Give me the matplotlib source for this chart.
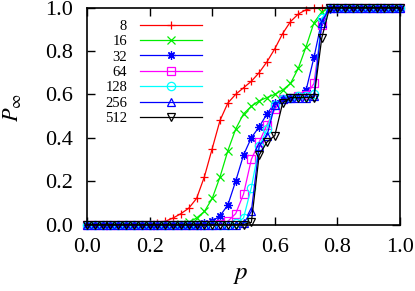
import numpy as np
import matplotlib
matplotlib.use("Agg")
import matplotlib.pyplot as plt

plt.rcParams['font.family'] = ['Liberation Serif', 'DejaVu Serif']
plt.rcParams['mathtext.fontset'] = 'stix'

# sampling grid of p (step 0.025)
p = np.linspace(0.0, 1.0, 41)

z = [0.0]
P_8 = z * 9 + [0.005, 0.015, 0.03, 0.05, 0.075, 0.12, 0.22, 0.35, 0.48, 0.56,
               0.60, 0.63, 0.66, 0.70, 0.75, 0.81, 0.88, 0.935, 0.97, 0.99,
               0.998] + [1.0] * 11
P_16 = z * 12 + [0.003, 0.01, 0.03, 0.06, 0.12, 0.22, 0.34, 0.44, 0.51, 0.545,
                 0.57, 0.585, 0.60, 0.62, 0.65, 0.72, 0.82, 0.93, 0.98] + [1.0] * 10
P_32 = z * 15 + [0.005, 0.015, 0.04, 0.09, 0.20, 0.32, 0.40, 0.45, 0.51, 0.56,
                 0.58, 0.585, 0.59, 0.62, 0.77, 0.94, 0.995] + [1.0] * 9
P_64 = z * 17 + [0.003, 0.015, 0.05, 0.14, 0.30, 0.38, 0.46, 0.53, 0.58, 0.585,
                 0.59, 0.595, 0.65, 0.92] + [1.0] * 10
P_128 = z * 19 + [0.005, 0.03, 0.17, 0.36, 0.44, 0.55, 0.58, 0.585, 0.59, 0.59,
                  0.60, 0.95] + [1.0] * 10
P_256 = z * 20 + [0.005, 0.06, 0.36, 0.41, 0.55, 0.58, 0.585, 0.585, 0.585,
                  0.59, 0.93] + [1.0] * 10
P_512 = z * 21 + [0.01, 0.32, 0.38, 0.41, 0.56, 0.585, 0.585, 0.585, 0.585,
                  0.86] + [1.0] * 10

sizes = ["8", "16", "32", "64", "128", "256", "512"]
series = [P_8, P_16, P_32, P_64, P_128, P_256, P_512]
colors = ["#ff0000", "#00ee00", "#0000ff", "#ff00ff", "#00ffff", "#0000ff", "#000000"]
markers = ["+", "x", (8, 2, 0), "s", "o", "^", "v"]

fig = plt.figure(figsize=(4.15, 2.91), dpi=100)
ax = fig.add_axes([0.2096, 0.2285, 0.7544, 0.7457])

for lab, vals, c, m in zip(sizes, series, colors, markers):
    ax.plot(p, vals, color=c, marker=m, markersize=6, markeredgewidth=0.9,
            fillstyle="none", linewidth=0.9, label=lab, clip_on=False)

ax.set_xlim(0, 1)
ax.set_ylim(0, 1)
ax.set_xticks(np.arange(0, 1.01, 0.2))
ax.set_yticks(np.arange(0, 1.01, 0.2))
ax.xaxis.set_major_formatter(matplotlib.ticker.FormatStrFormatter("%.1f"))
ax.yaxis.set_major_formatter(matplotlib.ticker.FormatStrFormatter("%.1f"))
ax.tick_params(direction="in", top=True, right=True, length=6, width=1,
               labelsize=16, pad=10)
for s in ax.spines.values():
    s.set_linewidth(1.2)

ax.set_xlabel("$p$", fontsize=18)
ax.set_ylabel(r"$P_\infty$", fontsize=16)
ax.xaxis.set_label_coords(0.49, -0.18)
ax.yaxis.set_label_coords(-0.205, 0.54)

leg = ax.legend(loc="upper left", bbox_to_anchor=(0.03, 0.985), markerfirst=False,
                frameon=False, fontsize=10.5, handlelength=4.25, handletextpad=0.9,
                labelspacing=0.15, borderaxespad=0.2)

fig.savefig("out.png", dpi=100)
